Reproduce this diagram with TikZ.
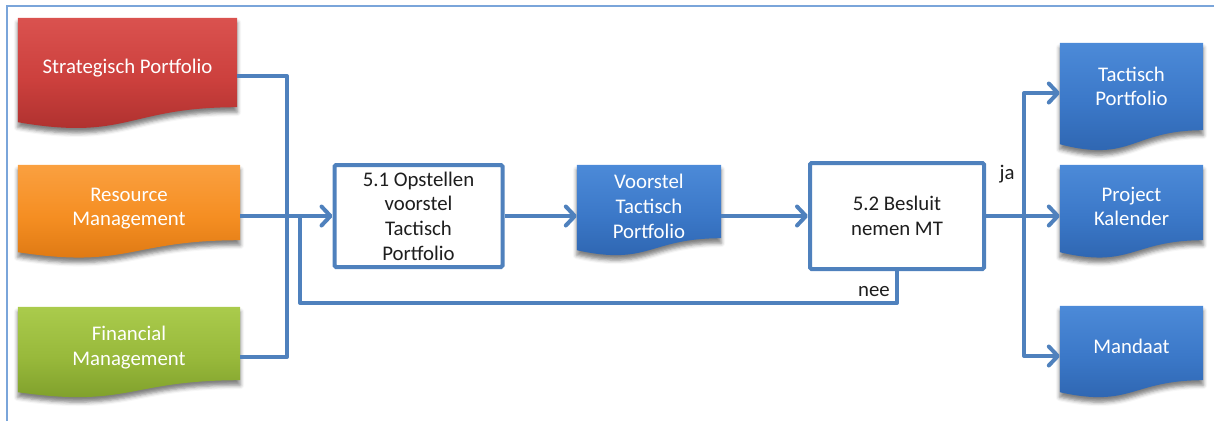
\documentclass[tikz,border=0pt]{standalone}
\usepackage{fontspec}
\setmainfont{Carlito}
\usetikzlibrary{arrows.meta,calc,backgrounds,shadows.blur}

\definecolor{linkblue}{HTML}{4F81BD}
\definecolor{framecol}{HTML}{7AA5DA}
\definecolor{textdark}{HTML}{1E1E1E}
\definecolor{redtop}{HTML}{DA524F}
\definecolor{redmid}{HTML}{CC403D}
\definecolor{redbot}{HTML}{A82E2C}
\definecolor{orgtop}{HTML}{FAA040}
\definecolor{orgmid}{HTML}{F58E22}
\definecolor{orgbot}{HTML}{D97410}
\definecolor{grntop}{HTML}{AACB4C}
\definecolor{grnmid}{HTML}{98B93B}
\definecolor{grnbot}{HTML}{7A9A28}
\definecolor{blutop}{HTML}{4C8AD8}
\definecolor{blumid}{HTML}{3B78C8}
\definecolor{blubot}{HTML}{2C62AC}

% document shape behind a named node: #1 node, #2 wave control depth,
% #3 depth of the lower left corner, #4-#6 shading colours,
% #7 how far the shape sits above the node's own box
\newcommand\docshape[7]{%
  \begin{scope}[on background layer]
    \path[blur shadow={shadow xshift=0pt, shadow yshift=-5pt,
                       shadow blur radius=4pt, shadow opacity=50},
          top color=#4, bottom color=#6, middle color=#5]
      ([yshift=#7]#1.north west) -- ([yshift=#7]#1.north east) -- ([yshift=#7]#1.south east)
      .. controls ([yshift=#7]#1.south) and ($([yshift=#7]#1.south)+(0,#2)$) ..
      ($([yshift=#7]#1.south west)+(0,#3)$) -- cycle;
  \end{scope}}

\tikzset{
  doc/.style={rectangle, inner sep=0pt, text=white, align=center},
  stepbox/.style={rectangle, draw=linkblue, line width=4pt, fill=white,
                  rounded corners=1.5pt, inner sep=0pt, align=center, text=textdark},
  conn/.style={draw=linkblue, line width=4pt, line join=round},
  arr/.style={conn, -{Straight Barb[length=9pt, width=19pt, round]}},
  lbl/.style={text=textdark, inner sep=0pt}
}

\begin{document}
\begin{tikzpicture}[x=1pt, y=-1pt, font=\fontsize{20.8}{24.7}\selectfont]
  \useasboundingbox (0,0) rectangle (1214,421);

  % outer frame
  \draw[framecol, line width=1.3pt] (7,421) -- (7,6) -- (1214,6);

  % input documents
  \node[doc, minimum width=219pt, minimum height=89pt] (S) at (127.5,68) {Strategisch Portfolio};
  \node[doc, minimum width=222pt, minimum height=75pt] (R) at (129,208.5) {Resource\\Management};
  \node[doc, minimum width=222pt, minimum height=73pt] (F) at (129,347.5) {Financial\\Management};

  % process steps and intermediate document
  \node[stepbox, minimum width=168pt, minimum height=102pt] (B1) at (418.5,216) {5.1 Opstellen\\voorstel\\Tactisch\\Portfolio};
  \node[doc, minimum width=144pt, minimum height=73pt] (V) at (649,206.5) {Voorstel\\Tactisch\\Portfolio};
  \node[stepbox, minimum width=174pt, minimum height=106pt] (B2) at (897,216) {5.2 Besluit\\nemen MT};

  % output documents
  \node[doc, minimum width=143pt, minimum height=87pt] (T) at (1131.5,86.5) {Tactisch\\Portfolio};
  \node[doc, minimum width=143pt, minimum height=75pt] (P) at (1131.5,206.5) {Project\\Kalender};
  \node[doc, minimum width=143pt, minimum height=74pt] (M) at (1131.5,346) {Mandaat};

  \docshape{S}{34}{15}{redtop}{redmid}{redbot}{5.5pt}
  \docshape{R}{29}{12}{orgtop}{orgmid}{orgbot}{6pt}
  \docshape{F}{28}{12}{grntop}{grnmid}{grnbot}{4pt}
  \docshape{V}{28}{12}{blutop}{blumid}{blubot}{5pt}
  \docshape{T}{33}{14}{blutop}{blumid}{blubot}{0pt}
  \docshape{P}{29}{12}{blutop}{blumid}{blubot}{4pt}
  \docshape{M}{28}{12}{blutop}{blumid}{blubot}{3pt}

  % connection points
  \coordinate (sout) at ([yshift=-8pt]S.east);
  \coordinate (rout) at ([yshift=-7.5pt]R.east);
  \coordinate (fout) at ([yshift=-9.5pt]F.east);
  \coordinate (vin)  at ([yshift=-9.5pt]V.west);
  \coordinate (vout) at ([yshift=-9.5pt]V.east);
  \coordinate (tin)  at ([yshift=-6.5pt]T.west);
  \coordinate (pin)  at ([yshift=-9.5pt]P.west);
  \coordinate (min)  at ([yshift=-10pt]M.west);
  \coordinate (J1) at (287,216);
  \coordinate (J2) at (1024,216);
  \coordinate (nb) at (300,303);

  % inputs into step 5.1
  \draw[conn] (sout) -| (J1) |- (fout);
  \draw[arr] (rout) -- (rout -| B1.west);
  % feedback when rejected
  \draw[conn] (B2.south) |- (nb) -- (nb |- rout);

  \draw[arr] (B1.east) -- (vin);
  \draw[arr] (vout) -- (vout -| B2.west);

  % outputs of step 5.2
  \draw[conn] (B2.east) -- (J2);
  \draw[arr] (J2) -- (pin);
  \draw[arr] (J2) |- (tin);
  \draw[arr] (J2) |- (min);

  \node[lbl] (ja) at (1007,174) {ja};
  \node[lbl] (nee) at (874,292) {nee};
\end{tikzpicture}
\end{document}
